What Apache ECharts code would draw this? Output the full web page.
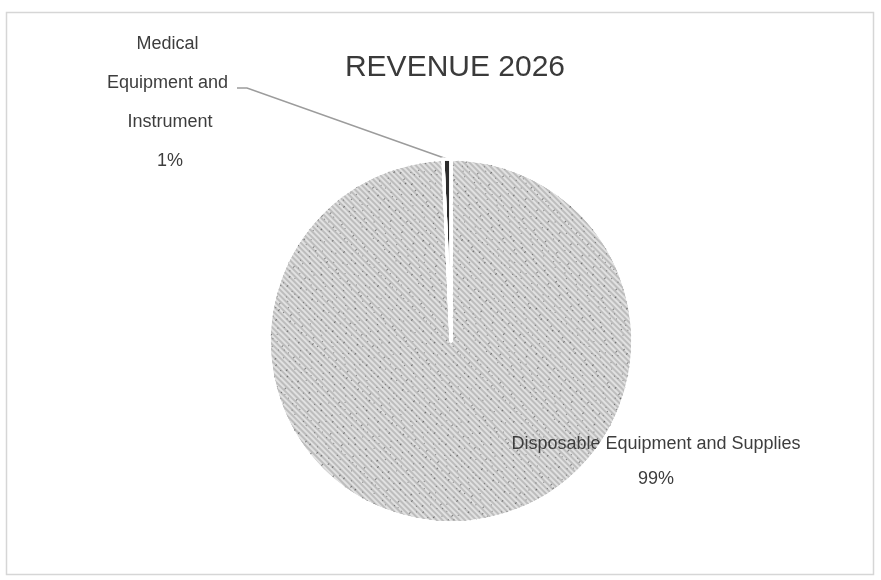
<!DOCTYPE html>
<html>
<head>
<meta charset="utf-8">
<script src="https://cdn.jsdelivr.net/npm/echarts@6/dist/echarts.min.js"></script>
<style>
html,body{margin:0;padding:0;background:#fff;}
#chart{width:881px;height:580px;}
</style>
</head>
<body>
<div id="chart"></div>
<script>
// Data
const titleText = 'REVENUE 2026';
const categories = ['Disposable Equipment and Supplies', 'Medical Equipment and Instrument'];
const values = [99.3, 0.7];

const chart = echarts.init(document.getElementById('chart'), null, {renderer: 'canvas'});

const font = 'Liberation Sans, Arial, sans-serif';
const textColor = '#3d3d3d';

const hatch = {
  symbol: 'rect',
  symbolSize: 1,
  dashArrayX: [1, 0],
  dashArrayY: [1.5, 1.5],
  rotation: Math.PI / 4,
  color: 'rgba(255,255,255,0.55)'
};

const speckle = {
  symbol: 'rect',
  symbolSize: 1,
  dashArrayX: [[1, 7, 2, 11, 1, 5, 1, 9], [2, 9, 1, 6, 1, 13], [1, 12, 1, 4, 2, 8]],
  dashArrayY: [1, 4, 1, 6, 1, 3],
  rotation: -Math.PI / 4,
  color: 'rgba(45,45,45,0.55)'
};

const itemStyles = [
  {color: '#bdbdbd', decal: hatch, borderColor: '#ffffff', borderWidth: 3},
  {color: '#2b2b2b', borderColor: '#ffffff', borderWidth: 3}
];

const labelStyles = [
  {position: 'outside', fontSize: 18, lineHeight: 35, color: textColor, fontFamily: font, formatter: '{b}\n{d}%'},
  {position: 'outside', fontSize: 18, lineHeight: 39, color: textColor, fontFamily: font, formatter: '{b}\n{d}%', width: 132, overflow: 'break', align: 'center'}
];

const data = categories.map((name, i) => ({
  name: name,
  value: values[i],
  itemStyle: itemStyles[i],
  label: labelStyles[i],
  labelLine: {show: i === 1}
}));

// texture overlay (same values, only adds the speckled print texture)
const overlayData = categories.map((name, i) => ({
  name: name,
  value: values[i],
  itemStyle: i === 0
    ? {color: 'rgba(0,0,0,0)', decal: speckle, borderColor: '#ffffff', borderWidth: 3}
    : {color: 'rgba(0,0,0,0)', borderColor: '#ffffff', borderWidth: 3}
}));

chart.setOption({
  animation: false,
  backgroundColor: '#ffffff',
  title: {
    text: titleText,
    left: 450,
    top: 48,
    textAlign: 'center',
    textStyle: {fontFamily: font, fontSize: 30, fontWeight: 'normal', color: '#3a3a3a'}
  },
  graphic: [{
    type: 'rect',
    shape: {x: 6.5, y: 12.5, width: 867, height: 562},
    style: {fill: 'none', stroke: '#d6d6d6', lineWidth: 1.5},
    silent: true,
    z: -1
  }],
  series: [{
    type: 'pie',
    center: [451, 341],
    radius: 182,
    startAngle: 90,
    clockwise: true,
    avoidLabelOverlap: false,
    percentPrecision: 0,
    emphasis: {disabled: true},
    labelLine: {show: true, length: 10, length2: 10, lineStyle: {color: '#9c9c9c', width: 1.5}},
    labelLayout: function (params) {
      if (params.dataIndex === 1) {
        const pts = params.labelLinePoints;
        const res = {x: 170, y: 103, align: 'center', verticalAlign: 'middle'};
        if (pts && pts[0]) {
          res.labelLinePoints = [pts[0], [247, 88], [237, 88]];
        }
        return res;
      }
      return {x: 656, y: 462, align: 'center', verticalAlign: 'middle'};
    },
    data: data
  }, {
    type: 'pie',
    center: [451, 341],
    radius: 182,
    startAngle: 90,
    clockwise: true,
    silent: true,
    z: 3,
    label: {show: false},
    labelLine: {show: false},
    emphasis: {disabled: true},
    data: overlayData
  }]
});
</script>
</body>
</html>
